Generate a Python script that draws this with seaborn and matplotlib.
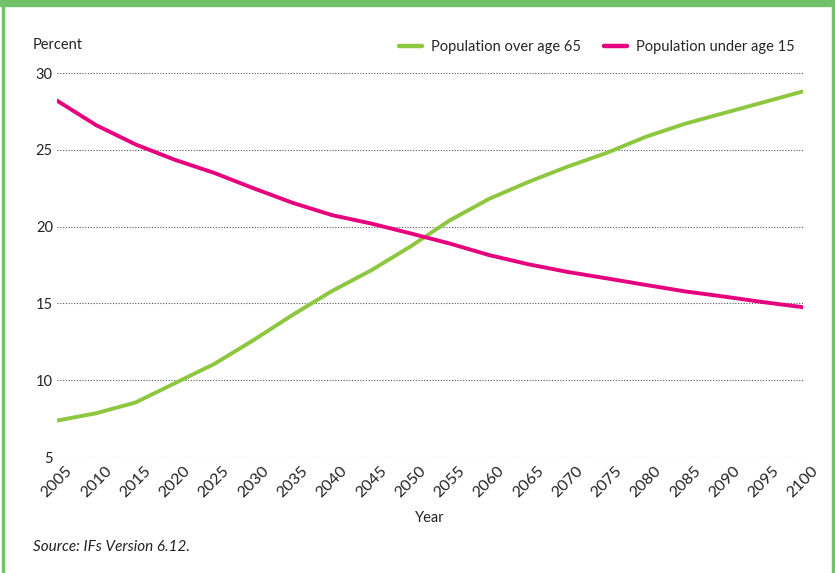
import numpy as np
import pandas as pd
import matplotlib.pyplot as plt
import seaborn as sns
from matplotlib.patches import Rectangle

# Share of population by age group, IFs base case
years = list(range(2005, 2101, 5))
over_65 = [7.37, 7.85, 8.55, 9.8, 11.05, 12.6, 14.25, 15.8, 17.15, 18.7, 20.4,
           21.8, 22.9, 23.9, 24.8, 25.85, 26.7, 27.4, 28.1, 28.8]
under_15 = [28.2, 26.6, 25.35, 24.35, 23.5, 22.5, 21.55, 20.75, 20.2, 19.56, 18.9,
            18.15, 17.55, 17.05, 16.63, 16.2, 15.78, 15.44, 15.08, 14.75]
series_names = ["Population over age 65", "Population under age 15"]
y_ticks = [5, 10, 15, 20, 25, 30]

df = pd.DataFrame({
    "Year": years * 2,
    "Percent": over_65 + under_15,
    "Series": [series_names[0]] * len(years) + [series_names[1]] * len(years),
})

sns.set_style("white")
plt.rcParams['font.family'] = ['Lato', 'DejaVu Sans']

fig = plt.figure(figsize=(8.35, 5.73), dpi=100)
ax = fig.add_axes([57 / 835, 1 - 457 / 573, 746 / 835, 384 / 573])

palette = {series_names[0]: "#8dc63f", series_names[1]: "#e6007e"}
sns.lineplot(data=df, x="Year", y="Percent", hue="Series", palette=palette,
             linewidth=2.8, ax=ax, legend=False)
for ln in ax.lines:
    ln.set_solid_joinstyle("round")

ax.set_xlim(2005, 2100)
ax.set_ylim(5, 30)
ax.set_xticks(years)
ax.set_xticklabels([str(y) for y in years], rotation=45, fontsize=11.5)
ax.set_yticks(y_ticks)
ax.set_yticklabels([str(t) for t in y_ticks], fontsize=10.5)
ax.tick_params(axis="both", length=0, pad=3, colors="#222222")
ax.tick_params(axis="x", pad=5)
for s in ax.spines.values():
    s.set_visible(False)
ax.yaxis.grid(True, linestyle=(0, (1, 1.5)), color="#555555", linewidth=0.8)
ax.xaxis.grid(False)
ax.set_axisbelow(True)

ax.set_xlabel("Year", fontsize=10.5, color="#222222", labelpad=8)
ax.set_ylabel("")
fig.text(33 / 835, 1 - 45 / 573, "Percent", fontsize=10.5, color="#222222",
         va="center", ha="left")
fig.text(33 / 835, 1 - 547 / 573, "Source: IFs Version 6.12.", fontsize=11,
         color="#222222", va="center", ha="left", style="italic")

# legend
handles = [plt.Line2D([0], [0], color=palette[n], linewidth=3.2) for n in series_names]
fig.legend(handles, series_names, loc="center right", ncol=2, frameon=False,
           bbox_to_anchor=(808 / 835, 1 - 47 / 573), fontsize=10.5,
           handlelength=1.6, handletextpad=0.6, columnspacing=1.6)

# green frame
frame_c = "#72c26c"
fig.patches.append(Rectangle((0, 1 - 6 / 573), 1, 6 / 573, transform=fig.transFigure,
                             color=frame_c, zorder=0))
fig.patches.append(Rectangle((1.5 / 835, 0), 2.5 / 835, 1, transform=fig.transFigure,
                             color=frame_c, zorder=0))
fig.patches.append(Rectangle((831.5 / 835, 0), 2.5 / 835, 1, transform=fig.transFigure,
                             color=frame_c, zorder=0))

fig.savefig("out.png", dpi=100)
